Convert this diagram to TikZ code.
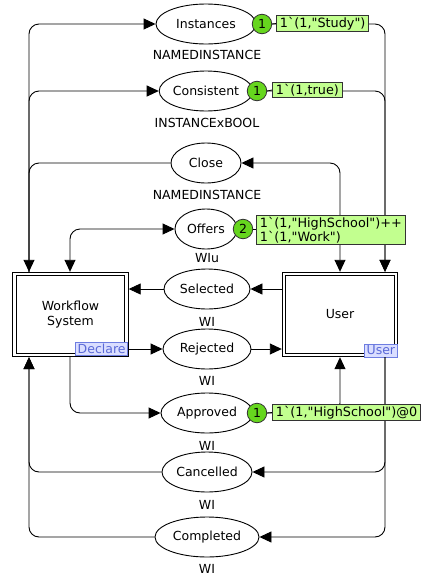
\documentclass[tikz,border=0pt]{standalone}
\usepackage{fontspec}
\setmainfont{DejaVu Sans}[Ligatures=TeXOff]
\usetikzlibrary{arrows.meta,shapes.geometric}
\definecolor{tokfill}{RGB}{102,214,30}
\definecolor{markfill}{RGB}{194,255,143}
\definecolor{tagfill}{RGB}{218,222,255}
\definecolor{tagline}{RGB}{110,125,225}
\definecolor{tagtext}{RGB}{90,105,215}

\begin{document}
\begin{tikzpicture}[x=1pt,y=-1pt,
  font=\fontsize{12.5}{14}\selectfont,
  place/.style={ellipse, draw, line width=0.9pt, fill=white, minimum height=40pt, inner sep=0pt},
  ptype/.style={inner sep=0pt},
  module/.style={rectangle, draw, double, line width=1pt, double distance=2.4pt,
    outer sep=2.2pt, minimum width=112pt, minimum height=81pt, align=center},
  tag/.style={draw=tagline, fill=tagfill, text=tagtext, line width=0.8pt,
    inner xsep=2pt, inner ysep=1pt, text height=9.5pt, text depth=1.5pt},
  token/.style={circle, draw=black!80, fill=tokfill, line width=0.8pt,
    minimum size=19.5pt, inner sep=0pt},
  marking/.style={draw=black!80, fill=markfill, line width=0.8pt, inner xsep=3.5pt,
    inner ysep=1.8pt, anchor=west, align=left, font=\fontsize{12.8}{12}\selectfont},
  tie/.style={draw, line width=0.8pt},
  tip/.style={Triangle[length=12pt,width=11pt]},
  arc/.style={draw, line width=0.9pt, rounded corners=10pt, -{Triangle[length=12pt,width=11pt]}},
  arcb/.style={arc, {Triangle[length=12pt,width=11pt]}-{Triangle[length=12pt,width=11pt]}}
]
\useasboundingbox (0,0) rectangle (423,579);

% vertical tracks for the long arcs
\coordinate (xl) at (29,0);
\coordinate (xm) at (70,0);
\coordinate (xu) at (340,0);
\coordinate (xr) at (385,0);

% places
\node[place, minimum width=100pt] (inst)   at (206,24)  {Instances};
\node[place, minimum width=90pt]  (cons)   at (206,91)  {Consistent};
\node[place, minimum width=70pt]  (close)  at (206,163) {Close};
\node[place, minimum width=62pt]  (offers) at (206,229) {Offers};
\node[place, minimum width=86pt]  (sel)    at (207,289) {Selected};
\node[place, minimum width=88pt]  (rej)    at (207,349) {Rejected};
\node[place, minimum width=92pt]  (appr)   at (207,413) {Approved};
\node[place, minimum width=90pt]  (canc)   at (207,472) {Cancelled};
\node[place, minimum width=104pt] (comp)   at (207,537) {Completed};

% colour sets
\node[ptype] (instT)   at (207,55)  {NAMEDINSTANCE};
\node[ptype] (consT)   at (207,123) {INSTANCExBOOL};
\node[ptype] (closeT)  at (207,195) {NAMEDINSTANCE};
\node[ptype] (offersT) at (207,258) {WIu};
\node[ptype] (selT)    at (207,322) {WI};
\node[ptype] (rejT)    at (207,381) {WI};
\node[ptype] (apprT)   at (207,446) {WI};
\node[ptype] (cancT)   at (207,505) {WI};
\node[ptype] (compT)   at (207,569) {WI};

% substitution transitions
\node[module] (ws)   at (70.5,314.5) {Workflow\\[1pt]System};
\node[module] (user) at (340,314.5)  {User};
\node[tag, anchor=south east] (decl)    at (128,356)   {Declare};
\node[tag, anchor=south east] (usertag) at (397.5,357.5) {User};

% arcs
\draw[arc]  (xl |- ws.north) |- (inst.west);
\draw[arc]  (xl |- ws.north) |- (cons.west);
\draw[arc]  (close.west) -| (xl |- ws.north);
\draw[arcb] (xm |- ws.north) |- (offers.west);
\draw[arcb] (xu |- user.north) |- (close.east);
\draw[arc]  (inst.east) -| (xr |- user.north);
\draw[arc]  (cons.east) -| (xr |- user.north);
\draw[arc]  (sel.east -| user.west) -- (sel.east);
\draw[arc]  (sel.west) -- (sel.west -| ws.east);
\draw[arc]  (rej.west -| decl.east) -- (rej.west);
\draw[arc]  (rej.east) -- (rej.east -| user.west);
\draw[arc]  (xm |- ws.south) |- (appr.west);
\draw[arc]  (appr.east) -| (xu |- user.south);
\draw[arc]  (xr |- user.south) |- (canc.east);
\draw[arc]  (xr |- user.south) |- (comp.east);
\draw[arc]  (canc.west) -| (xl |- ws.south);
\draw[arc]  (comp.west) -| (xl |- ws.south);

% current markings
\node[token] (instK)  at (262,24)  {1};
\node[token] (consK)  at (257,91)  {1};
\node[token] (offK)   at (243,229) {2};
\node[token] (apprK)  at (257,413) {1};
\node[marking] (instM) at (276,23.5) {1`(1,"Study")};
\node[marking] (consM) at (272,90)   {1`(1,true)};
\node[marking] (offM) at (256,230) {1`(1,"HighSchool")++\\1`(1,"Work")};
\node[marking] (apprM) at (272,412.5) {1`(1,"HighSchool")@0};
\draw[tie] (instK.east) -- (instM.west);
\draw[tie] (consK.east) -- (consM.west);
\draw[tie] (offK.east)  -- (offM.west |- offK);
\draw[tie] (apprK.east) -- (apprM.west);
\end{tikzpicture}
\end{document}
